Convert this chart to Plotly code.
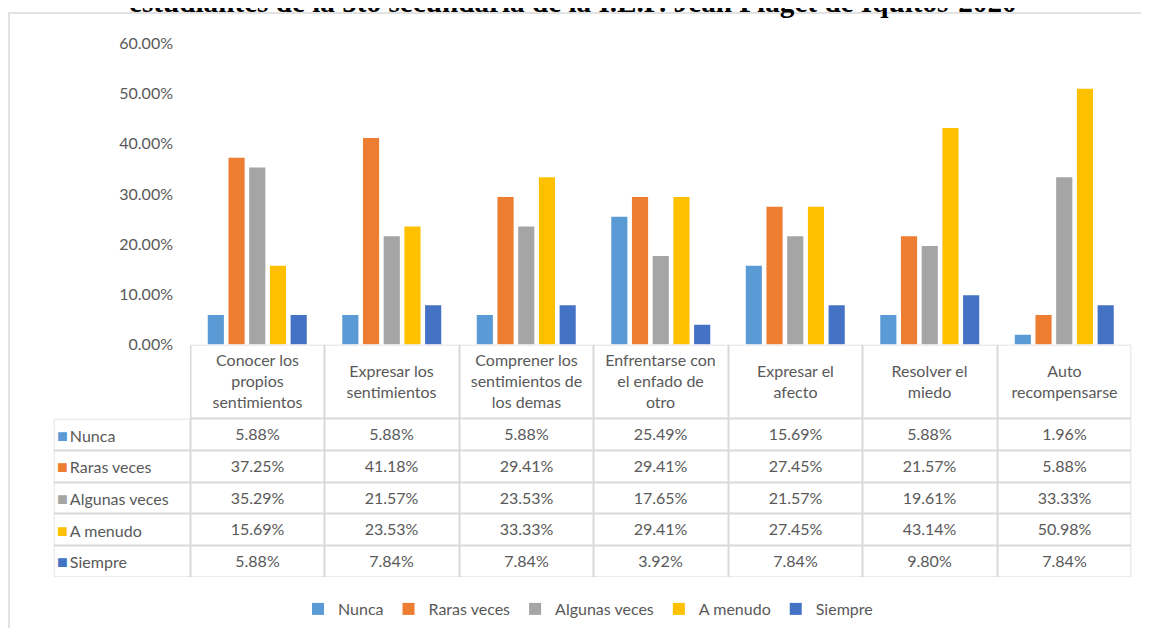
import plotly.graph_objects as go

W, H = 1141, 620
OFF = 8  # margen del body de la pagina

categorias = ["Conocer los propios sentimientos", "Expresar los sentimientos",
              "Comprener los sentimientos de los demas", "Enfrentarse con el enfado de otro",
              "Expresar el afecto", "Resolver el miedo", "Auto recompensarse"]
etiquetas = ["Conocer los<br>propios<br>sentimientos", "Expresar los<br>sentimientos",
             "Comprener los<br>sentimientos de<br>los demas", "Enfrentarse con<br>el enfado de<br>otro",
             "Expresar el<br>afecto", "Resolver el<br>miedo", "Auto<br>recompensarse"]

series = ["Nunca", "Raras veces", "Algunas veces", "A menudo", "Siempre"]
nunca = [5.88, 5.88, 5.88, 25.49, 15.69, 5.88, 1.96]
raras_veces = [37.25, 41.18, 29.41, 29.41, 27.45, 21.57, 5.88]
algunas_veces = [35.29, 21.57, 23.53, 17.65, 21.57, 19.61, 33.33]
a_menudo = [15.69, 23.53, 33.33, 29.41, 27.45, 43.14, 50.98]
siempre = [5.88, 7.84, 7.84, 3.92, 7.84, 9.80, 7.84]
valores = [nunca, raras_veces, algunas_veces, a_menudo, siempre]
colores = ["#5B9BD5", "#ED7D31", "#A5A5A5", "#FFC000", "#4472C4"]

titulo = "estudiantes de la 5to secundaria de la I.E.P. Jean Piaget de Iquitos-2020"

gris = "#595959"
linea = "#D9D9D9"
fuente = "Lato"

def px_x(p):
    return (p - OFF) / W

def px_y(p):
    return 1 - (p - OFF) / H

fig = go.Figure()

for nombre, vals, col in zip(series, valores, colores):
    fig.add_trace(go.Bar(
        x=categorias, y=[v / 100 for v in vals], name=nombre,
        marker=dict(color=col, line=dict(width=0)),
    ))

# tabla de datos: heatmap blanco con huecos que dejan ver el gris de fondo
ancho_col = [136.5] + [134.5] * 7
alto_fila = [74.3] + [31.7] * 5
xs = [0]
for w in ancho_col:
    xs.append(xs[-1] + w)
ys = [0]
for h in alto_fila:
    ys.append(ys[-1] + h)

z = [[None] + [0] * 7] + [[0] * 8 for _ in series]
texto = [[""] + etiquetas] + [[""] + [f"{vals[i]:.2f}%" for i in range(len(categorias))] for vals in valores]

fig.add_trace(go.Heatmap(
    x=xs, y=ys, z=z, text=texto, texttemplate="%{text}",
    textfont=dict(family=fuente, size=16, color=gris),
    colorscale=[[0, "white"], [1, "white"]], zmin=0, zmax=1, showscale=False,
    xgap=2, ygap=2, hoverinfo="skip", xaxis="x2", yaxis="y2",
))

fig.add_shape(type="path", xref="x2", yref="y2", layer="below",
              path=f"M {xs[1]},{ys[0]} L {xs[-1]},{ys[0]} L {xs[-1]},{ys[-1]} "
                   f"L {xs[0]},{ys[-1]} L {xs[0]},{ys[1]} L {xs[1]},{ys[1]} Z",
              fillcolor=linea, line=dict(width=0))

for i, (s, c) in enumerate(zip(series, colores)):
    fig.add_annotation(x=px_x(55), xref="paper", xanchor="left",
                       y=(ys[i + 1] + ys[i + 2]) / 2, yref="y2", yanchor="middle",
                       text=f'<span style="color:{c};font-size:18px">■</span>\u2009{s}',
                       showarrow=False, font=dict(family=fuente, size=16, color=gris))

fig.add_annotation(x=px_x(573), y=px_y(20), xref="paper", yref="paper", text="<b>" + titulo + "</b>",
                   showarrow=False, yanchor="bottom", xanchor="center",
                   font=dict(family="Liberation Serif", size=29.2, color="black"))

# borde del area del grafico (solo izquierda y arriba quedan a la vista)
fig.add_shape(type="path", xref="paper", yref="paper", layer="below",
              path=f"M {px_x(9)},-0.2 L {px_x(9)},{px_y(13)} L 1.3,{px_y(13)}",
              line=dict(color=linea, width=1.5))

fig.update_layout(
    width=W, height=H,
    margin=dict(l=0, r=0, t=0, b=0, autoexpand=False),
    paper_bgcolor="white", plot_bgcolor="rgba(0,0,0,0)",
    barmode="group", bargap=0.23, bargroupgap=0.22,
    font=dict(family=fuente, size=16, color=gris),
    xaxis=dict(domain=[px_x(190), px_x(1131.5)], showticklabels=False, showgrid=False,
               zeroline=False, showline=False, ticks="", automargin=False),
    yaxis=dict(domain=[px_y(344.5), px_y(43.5)], range=[0, 0.6], dtick=0.1, tickformat=".2%",
               showgrid=False, zeroline=False, showline=False, ticks="", ticklabelstandoff=16,
               automargin=False),
    xaxis2=dict(domain=[px_x(53.5), px_x(1131.5)], range=[xs[0], xs[-1]], visible=False, anchor="y2"),
    yaxis2=dict(domain=[px_y(ys[-1] + 344.5), px_y(344.5)], range=[ys[-1], ys[0]], visible=False,
                anchor="x2"),
    legend=dict(orientation="h", x=px_x(588), xanchor="center", y=px_y(609), yanchor="middle",
                font=dict(family=fuente, size=16, color=gris), traceorder="normal"),
    showlegend=True,
)

fig.write_html("out.html")
